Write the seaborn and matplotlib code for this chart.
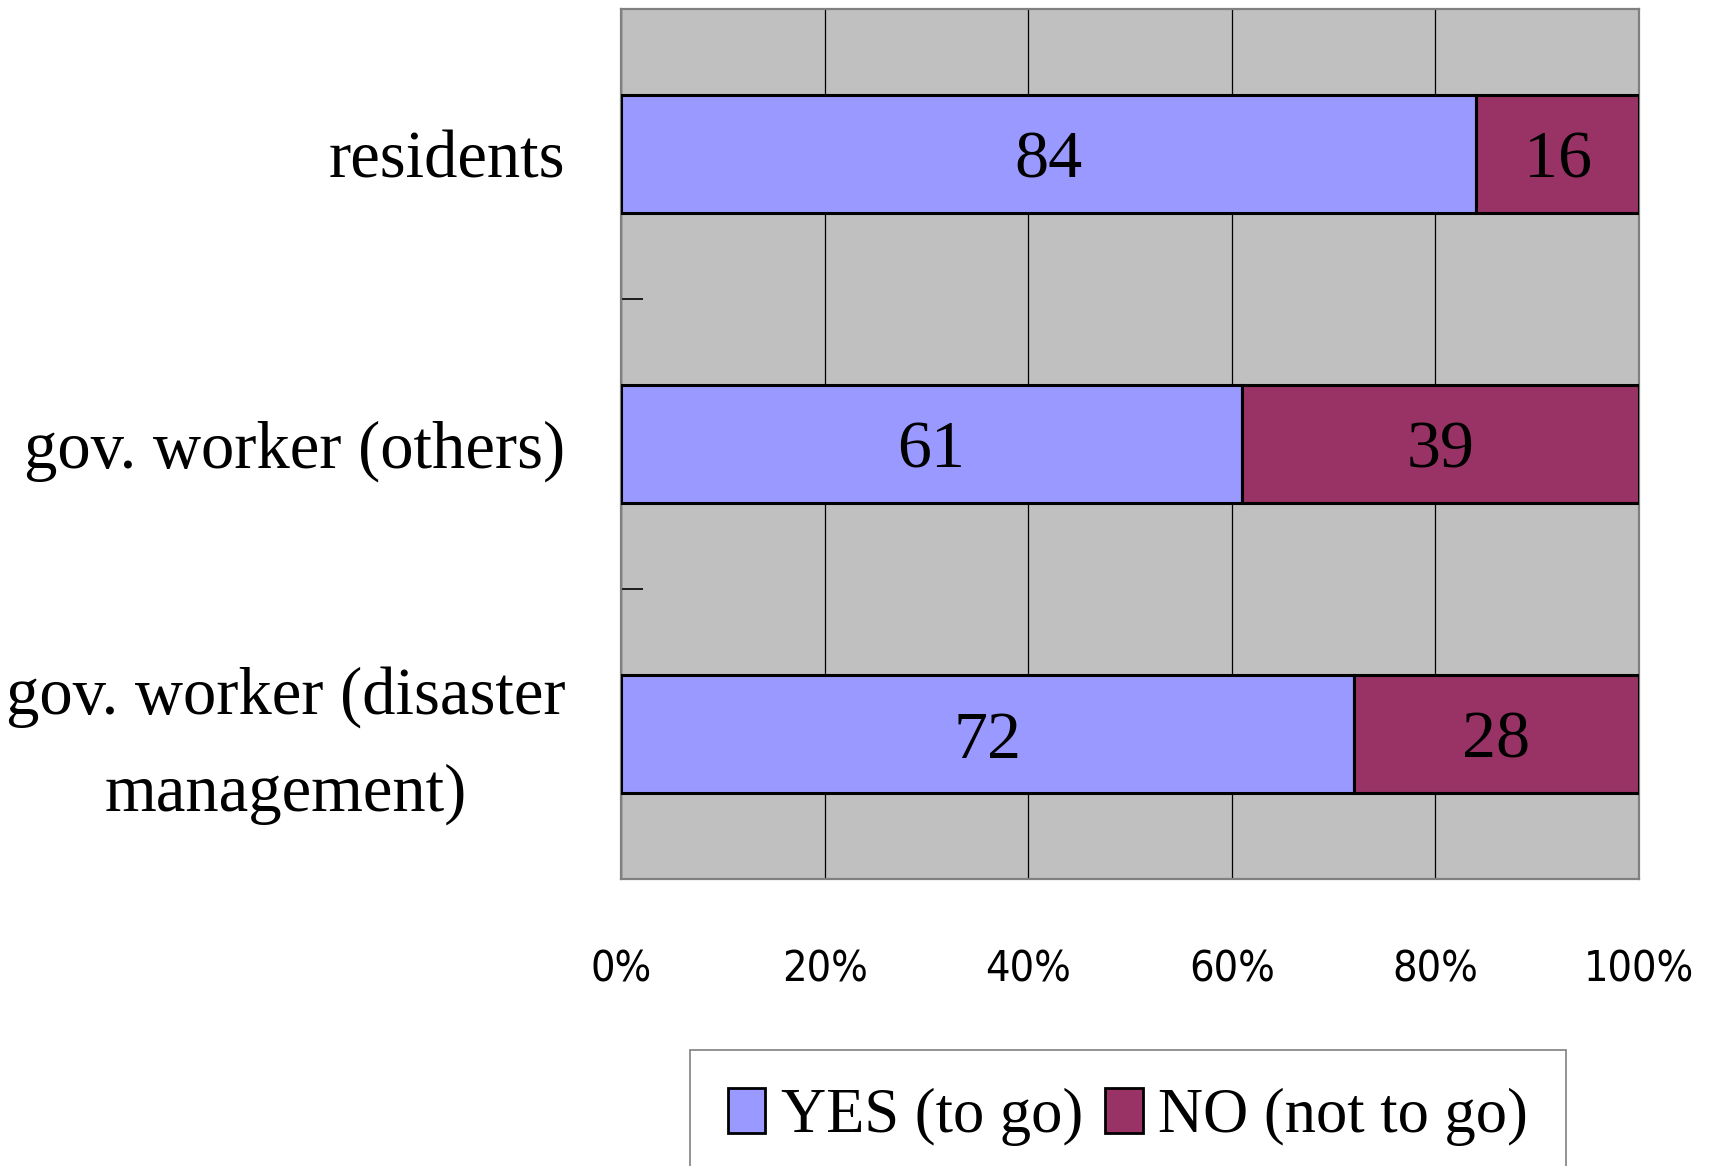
import numpy as np
import pandas as pd
import seaborn as sns
import matplotlib
matplotlib.use("Agg")
import matplotlib.pyplot as plt
import matplotlib.transforms as mtransforms
from matplotlib.patches import Patch
from matplotlib.ticker import FixedLocator, PercentFormatter
from matplotlib import font_manager as fm

# Survey answers, in percent
groups = ["residents", "gov. worker (others)", "gov. worker (disaster\nmanagement)"]
yes_share = [84, 61, 72]
no_share = [16, 39, 28]
series_names = ["YES (to go)", "NO (not to go)"]
x_ticks = [0, 20, 40, 60, 80, 100]

YES_COLOR = "#9999FF"
NO_COLOR = "#993366"
BG_COLOR = "#C0C0C0"

sns.set_theme(style="white")
plt.rcParams["text.color"] = "black"
plt.rcParams["xtick.color"] = "black"
plt.rcParams["ytick.color"] = "black"
SERIF = ["Liberation Serif", "DejaVu Serif"]
installed = {f.name for f in fm.fontManager.ttflist}
if "Liberation Sans Narrow" in installed:
    tick_font = dict(family="Liberation Sans Narrow", size=35)
else:
    tick_font = dict(family="DejaVu Sans", stretch="condensed", size=31)

df = pd.DataFrame({"group": groups, "yes": yes_share, "no": no_share})

fig = plt.figure(figsize=(17.11, 11.66), dpi=100)
ax = fig.add_axes([621 / 1711, 1 - 879 / 1166, (1639 - 621) / 1711, (879 - 9) / 1166])
ax.set_facecolor(BG_COLOR)

bar_kw = dict(orient="h", width=0.41, edgecolor="black", linewidth=2.2,
              saturation=1, ax=ax, order=groups, zorder=3)
sns.barplot(data=df, x="yes", y="group", color=YES_COLOR, **bar_kw)
n_yes = len(ax.patches)
sns.barplot(data=df, x="no", y="group", color=NO_COLOR, **bar_kw)
# shift the NO segments so they start where YES ends
no_patches = ax.patches[n_yes:]
for patch, left in zip(no_patches, yes_share):
    patch.set_x(left)

# value labels centred in each segment
for i, (y_val, n_val) in enumerate(zip(yes_share, no_share)):
    ax.text(y_val / 2, i, f"{y_val}", ha="center", va="center_baseline",
            family=SERIF, fontsize=49, color="black", zorder=5)
    ax.text(y_val + n_val / 2, i, f"{n_val}", ha="center", va="center_baseline",
            family=SERIF, fontsize=49, color="black", zorder=5)

ax.set_xlim(0, 100)
ax.set_ylim(2.5, -0.5)
ax.set_xlabel("")
ax.set_ylabel("")

ax.xaxis.set_major_locator(FixedLocator(x_ticks))
ax.xaxis.set_major_formatter(PercentFormatter(decimals=0))
ax.grid(axis="x", color="black", linewidth=0.9, zorder=1)
ax.grid(axis="y", visible=False)
ax.set_axisbelow(True)
ax.tick_params(axis="x", length=0, pad=50)
for lbl in ax.get_xticklabels():
    lbl.set_fontproperties(fm.FontProperties(**tick_font))
    lbl.set_color("black")

ax.set_yticks(range(len(groups)))
ylabels = ax.set_yticklabels(groups, family=SERIF, fontsize=48, color="black",
                             multialignment="center", linespacing=1.75)
ax.tick_params(axis="y", which="major", length=0, pad=40)
# lift the two-line label a little
lift = mtransforms.ScaledTranslation(0, 0.13, fig.dpi_scale_trans)
ylabels[2].set_transform(ylabels[2].get_transform() + lift)
ax.yaxis.set_minor_locator(FixedLocator([-0.5, 0.5, 1.5, 2.5]))
ax.tick_params(axis="y", which="minor", direction="in", length=16, width=1.2,
               color="black", left=True)

for side in ["left", "right", "top", "bottom"]:
    ax.spines[side].set_visible(True)
    ax.spines[side].set_color("#808080")
    ax.spines[side].set_linewidth(1.6)

handles = [Patch(facecolor=YES_COLOR, edgecolor="black", linewidth=2),
           Patch(facecolor=NO_COLOR, edgecolor="black", linewidth=2)]
leg = fig.legend(handles, series_names, loc="upper center",
                 bbox_to_anchor=(1128 / 1711, 1 - 1050 / 1166), ncol=2,
                 prop=fm.FontProperties(family=SERIF, size=45),
                 frameon=True, fancybox=False, framealpha=1,
                 edgecolor="#808080", handlelength=0.6, handleheight=0.75,
                 handletextpad=0.25, columnspacing=0.35, borderpad=0.6,
                 borderaxespad=0)
leg.get_frame().set_linewidth(1.2)

fig.savefig("out.png", dpi=100, facecolor="white")
